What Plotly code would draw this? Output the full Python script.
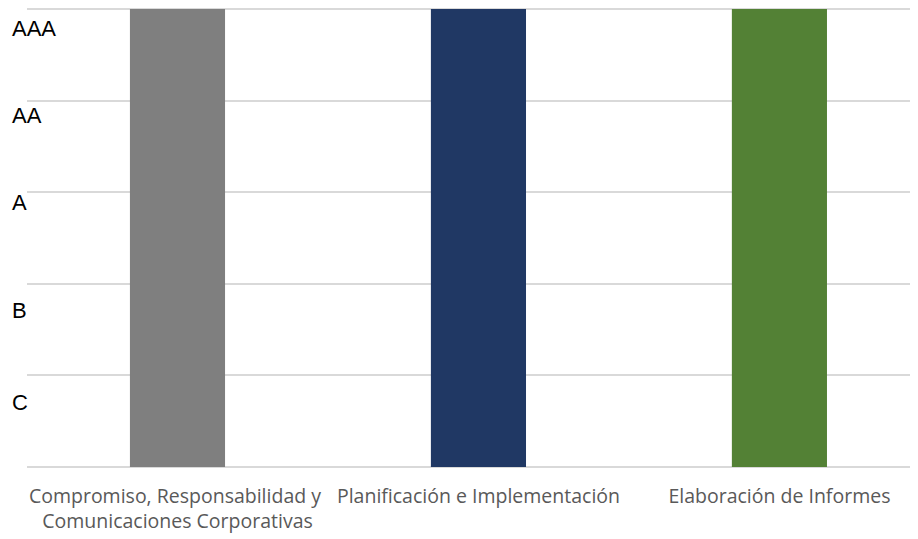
import plotly.graph_objects as go

categories = [
    "Compromiso, Responsabilidad y <br>Comunicaciones Corporativas",
    "Planificación e Implementación",
    "Elaboración de Informes",
]
values = [5, 5, 5]
colors = ["#7f7f7f", "#203864", "#538135"]

rating_labels = ["C", "B", "A", "AA", "AAA"]
rating_label_pos = [0.70, 1.71, 2.89, 3.84, 4.79]

fig = go.Figure(
    go.Bar(
        x=list(range(len(categories))),
        y=values,
        marker=dict(color=colors, line=dict(width=0)),
        width=0.316,
    )
)

for lab, pos in zip(rating_labels, rating_label_pos):
    fig.add_annotation(
        text=lab, x=-0.0189, xref="paper", xanchor="left",
        y=pos, yref="y", yanchor="middle", showarrow=False,
        font=dict(family="Liberation Sans, Arial", size=22, color="#000000"),
    )

fig.update_layout(
    width=918, height=539,
    margin=dict(l=19, r=0, t=0, b=80),
    paper_bgcolor="white", plot_bgcolor="white",
    showlegend=False,
    xaxis=dict(
        range=[-0.5, 2.487],
        tickvals=list(range(len(categories))),
        ticktext=categories,
        showgrid=False, zeroline=False,
        showline=False,
        ticks="",
        ticklabelstandoff=15,
        tickfont=dict(family="Open Sans", size=19.5, color="#595959"),
    ),
    yaxis=dict(
        range=[0, 5.012],
        tickvals=[0, 1, 2, 3, 4, 5],
        showticklabels=False,
        showgrid=True, gridcolor="#d9d9d9", gridwidth=1.5,
        zeroline=True, zerolinecolor="#d9d9d9", zerolinewidth=1.5,
        ticks="",
    ),
)

fig.write_html("out.html")
